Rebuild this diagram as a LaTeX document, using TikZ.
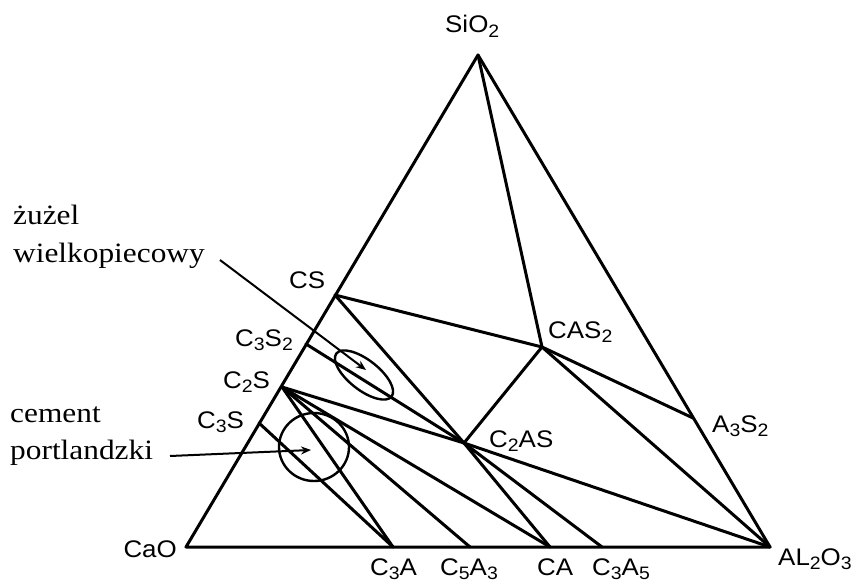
\documentclass[tikz,border=0pt]{standalone}
\usepackage{fontspec}
\setmainfont{Liberation Serif}
\newfontfamily\chemfont[FakeStretch=1.08]{Liberation Sans}
\newfontfamily\polfont[FakeStretch=1.12]{Liberation Serif}
\usetikzlibrary{arrows.meta}
\newcommand\chsub[1]{\raisebox{-0.35ex}{\fontsize{18}{18}\selectfont #1}}
\begin{document}
\begin{tikzpicture}[x=1pt,y=-1pt,
  tie/.style={line width=3pt, line cap=round, line join=round},
  chem/.style={font=\chemfont\fontsize{24}{24}\selectfont, inner sep=0pt, anchor=base west},
  pol/.style={font=\polfont\fontsize{28}{28}\selectfont, inner sep=0pt, anchor=base west},
  ring/.style={line width=2.4pt},
  pointer/.style={line width=2pt, -{Stealth[length=10pt,width=8pt]}}]
\useasboundingbox (0,0) rectangle (858,586);
% points
\coordinate (Si) at (478,55);
\coordinate (Ca) at (186,547);
\coordinate (Al) at (770,547);
\coordinate (CS) at (335,295);
\coordinate (C3S2) at (306,344);
\coordinate (C2S) at (282,387);
\coordinate (C3S) at (259,423);
\coordinate (CAS2) at (542,347);
\coordinate (C2AS) at (464,443);
\coordinate (A3S2) at (693,418);
\coordinate (C3A) at (393,547);
\coordinate (C5A3) at (470,547);
\coordinate (CA) at (550,547);
\coordinate (C3A5) at (602,547);
% triangle
\draw[tie] (Si) -- (Ca) -- (Al) -- cycle;
% tie lines
\draw[tie] (Si) -- (CAS2);
\draw[tie] (CS) -- (CAS2);
\draw[tie] (CAS2) -- (A3S2);
\draw[tie] (CAS2) -- (Al);
\draw[tie] (CAS2) -- (C2AS);
\draw[tie] (CS) -- (C2AS);
\draw[tie] (C3S2) -- (C2AS);
\draw[tie] (C2S) -- (C2AS);
\draw[tie] (C2AS) -- (Al);
\draw[tie] (C2AS) -- (CA);
\draw[tie] (C2AS) -- (C3A5);
\draw[tie] (C2S) -- (CA);
\draw[tie] (C2S) -- (C5A3);
\draw[tie] (C2S) -- (C3A);
\draw[tie] (C3S) -- (C3A);
% regions
\draw[ring, rotate around={-38:(364,375)}] (364,375) ellipse [x radius=35pt, y radius=15pt];
\draw[ring] (314,447) ellipse [x radius=35pt, y radius=34pt];
% labels
\node[chem] (lSi) at (445,33) {SiO\chsub{2}};
\node[chem, anchor=base east] (lCa) at (177,557) {CaO};
\node[chem] (lAl) at (778,565) {AL\chsub{2}O\chsub{3}};
\node[chem] (lCS) at (289,288) {CS};
\node[chem] (lC3S2) at (235,346) {C\chsub{3}S\chsub{2}};
\node[chem] (lC2S) at (223,388) {C\chsub{2}S};
\node[chem] (lC3S) at (197,428) {C\chsub{3}S};
\node[chem] (lCAS2) at (548,338) {CAS\chsub{2}};
\node[chem] (lC2AS) at (489,447) {C\chsub{2}AS};
\node[chem] (lA3S2) at (712,432) {A\chsub{3}S\chsub{2}};
\node[chem] (lC3A) at (370,575) {C\chsub{3}A};
\node[chem] (lC5A3) at (440,575) {C\chsub{5}A\chsub{3}};
\node[chem] (lCA) at (537,575) {CA};
\node[chem] (lC3A5) at (592,575) {C\chsub{3}A\chsub{5}};
% polish labels
\node[pol] (zuzel) at (13,224) {żużel};
\node[pol] (wielko) at (13,262) {wielkopiecowy};
\node[pol] (cement) at (10,422) {cement};
\node[pol] (portl) at (10,459) {portlandzki};
% pointers
\coordinate (slagstart) at (220,260);
\coordinate (slagtip) at (366,370);
\coordinate (cemstart) at (170,456);
\coordinate (cemtip) at (311,450);
\draw[pointer] (slagstart) -- (slagtip);
\draw[pointer] (cemstart) -- (cemtip);
\end{tikzpicture}
\end{document}
